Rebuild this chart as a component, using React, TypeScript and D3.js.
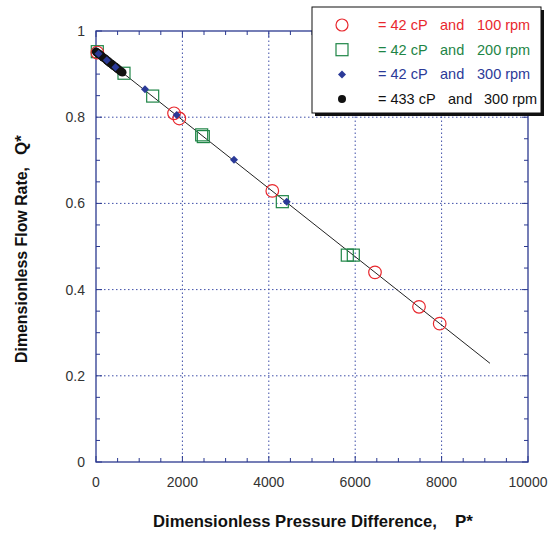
import React from "react";
import * as d3 from "d3";

// Series: 42 cP and 100 rpm (red circles)
const redP = [30, 1806, 1928, 4081, 6458, 7477, 7956];
const redQ = [0.95, 0.809, 0.797, 0.629, 0.44, 0.36, 0.321];
// 42 cP and 200 rpm (green squares)
const greenP = [30, 648, 1312, 2446, 2484, 4313, 5817, 5956];
const greenQ = [0.952, 0.902, 0.849, 0.759, 0.755, 0.604, 0.48, 0.48];
// 42 cP and 300 rpm (blue diamonds)
const blueP = [60, 250, 450, 1134, 1868, 3194, 4414];
const blueQ = [0.947, 0.932, 0.916, 0.865, 0.805, 0.701, 0.604];
// 433 cP and 300 rpm (black dots)
const blackP = [0, 20, 40, 60, 80, 100, 130, 160, 190, 220, 250, 280, 310, 340, 370, 400, 430, 460, 490, 520, 550, 580, 610];
const blackQ = [0.952, 0.95, 0.949, 0.947, 0.946, 0.944, 0.942, 0.939, 0.937, 0.935, 0.932, 0.93, 0.927, 0.925, 0.923, 0.92, 0.918, 0.916, 0.913, 0.911, 0.908, 0.906, 0.904];
// fitted line
const lineP = [0, 9120];
const lineQ = [0.952, 0.229];

const xTicks = [0, 2000, 4000, 6000, 8000, 10000];
const yTicks = [0, 0.2, 0.4, 0.6, 0.8, 1];
const xMinor = d3.range(0, 10001, 500);
const yMinor = d3.range(0, 1.0001, 0.05);

const legendItems = [
  { kind: "circle", color: "#e8282e", parts: ["= 42 cP", "and", "100 rpm"], xs: [378, 440, 477] },
  { kind: "square", color: "#1e8546", parts: ["= 42 cP", "and", "200 rpm"], xs: [378, 440, 477] },
  { kind: "diamond", color: "#2b3a98", parts: ["= 42 cP", "and", "300 rpm"], xs: [378, 440, 477] },
  { kind: "dot", color: "#111111", parts: ["= 433 cP", "and", "300 rpm"], xs: [378, 448, 484] },
];

const FONT = "'Liberation Sans', Arial, Helvetica, sans-serif";
const AXIS = "#2b3990";
const GRID = "#3f4fa8";

export default function App() {
  const x = d3.scaleLinear().domain([0, 10000]).range([96, 528]);
  const y = d3.scaleLinear().domain([0, 1]).range([462, 31]);
  const line = d3.line<number>().x((_, i) => x(lineP[i])).y((_, i) => y(lineQ[i]));

  const diamond = (cx: number, cy: number, r: number) =>
    `M${cx},${cy - r}L${cx + r},${cy}L${cx},${cy + r}L${cx - r},${cy}Z`;

  const x0 = x(0), x1 = x(10000), y0 = y(0), y1 = y(1);

  return (
    <svg width={550} height={533} style={{ position: "absolute", left: 0, top: 0, background: "#fff" }} fontFamily={FONT}>
      {/* grid */}
      {xTicks.slice(1, -1).map((t) => (
        <line key={"gx" + t} x1={x(t)} x2={x(t)} y1={y0} y2={y1} stroke={GRID} strokeWidth={1} strokeDasharray="1.5,2.5" />
      ))}
      {yTicks.slice(1, -1).map((t) => (
        <line key={"gy" + t} x1={x0} x2={x1} y1={y(t)} y2={y(t)} stroke={GRID} strokeWidth={1} strokeDasharray="1.5,2.5" />
      ))}
      {/* ticks */}
      {xMinor.map((t, i) => {
        const len = i % 4 === 0 ? 6 : 4;
        return (
          <g key={"tx" + i}>
            <line x1={x(t)} x2={x(t)} y1={y0} y2={y0 - len} stroke={AXIS} strokeWidth={1} />
            <line x1={x(t)} x2={x(t)} y1={y1} y2={y1 + len} stroke={AXIS} strokeWidth={1} />
          </g>
        );
      })}
      {yMinor.map((t, i) => {
        const len = i % 4 === 0 ? 6 : 4;
        return (
          <g key={"ty" + i}>
            <line x1={x0} x2={x0 + len} y1={y(t)} y2={y(t)} stroke={AXIS} strokeWidth={1} />
            <line x1={x1} x2={x1 - len} y1={y(t)} y2={y(t)} stroke={AXIS} strokeWidth={1} />
          </g>
        );
      })}
      <rect x={x0} y={y1} width={x1 - x0} height={y0 - y1} fill="none" stroke={AXIS} strokeWidth={1.3} />

      {/* tick labels */}
      {xTicks.map((t) => (
        <text key={"lx" + t} x={x(t)} y={487} textAnchor="middle" fontSize={14} fill="#333">
          {t}
        </text>
      ))}
      {yTicks.map((t) => (
        <text key={"ly" + t} x={85} y={y(t) + 5} textAnchor="end" fontSize={14} fill="#333">
          {t}
        </text>
      ))}

      {/* axis titles */}
      <text x={153} y={527} fontSize={17} fontWeight="bold" fill="#111" textLength={284} lengthAdjust="spacingAndGlyphs">
        Dimensionless Pressure Difference,
      </text>
      <text x={455} y={527} fontSize={17} fontWeight="bold" fill="#111">
        P*
      </text>
      <g transform="translate(27,0) rotate(-90)">
        <text x={-363} y={0} fontSize={17} fontWeight="bold" fill="#111" textLength={196} lengthAdjust="spacingAndGlyphs">
          Dimensionless Flow Rate,
        </text>
        <text x={-155} y={0} fontSize={17} fontWeight="bold" fill="#111">
          Q*
        </text>
      </g>

      {/* fit line */}
      <path d={line(lineP) || ""} fill="none" stroke="#222" strokeWidth={1} />

      {/* markers */}
      {greenP.map((p, i) => (
        <rect key={"g" + i} x={x(p) - 6} y={y(greenQ[i]) - 6} width={12} height={12} fill="none" stroke="#1e8546" strokeWidth={1.2} />
      ))}
      {redP.map((p, i) => (
        <circle key={"r" + i} cx={x(p)} cy={y(redQ[i])} r={6.3} fill="none" stroke="#e8282e" strokeWidth={1.2} />
      ))}
      {blackP.map((p, i) => (
        <circle key={"k" + i} cx={x(p)} cy={y(blackQ[i])} r={4.2} fill="#111" />
      ))}
      {blueP.map((p, i) => (
        <path key={"b" + i} d={diamond(x(p), y(blueQ[i]), 4)} fill="#2b3a98" />
      ))}

      {/* legend */}
      <rect x={315} y={10} width={229} height={106} fill="#111" />
      <rect x={312} y={7} width={229} height={106} fill="#fff" stroke="#111" strokeWidth={1} />
      {legendItems.map((it, i) => {
        const cy = 25 + i * 24.7;
        const sx = 342;
        let sym;
        if (it.kind === "circle") sym = <circle cx={sx} cy={cy} r={6} fill="none" stroke={it.color} strokeWidth={1.2} />;
        else if (it.kind === "square") sym = <rect x={sx - 6} y={cy - 6} width={12} height={12} fill="none" stroke={it.color} strokeWidth={1.2} />;
        else if (it.kind === "diamond") sym = <path d={diamond(sx, cy, 4)} fill={it.color} />;
        else sym = <circle cx={sx} cy={cy} r={4} fill={it.color} />;
        return (
          <g key={"leg" + i}>
            {sym}
            {it.parts.map((s, j) => (
              <text key={j} x={it.xs[j]} y={cy + 5} fontSize={14.5} fill={it.color}>
                {s}
              </text>
            ))}
          </g>
        );
      })}
    </svg>
  );
}
